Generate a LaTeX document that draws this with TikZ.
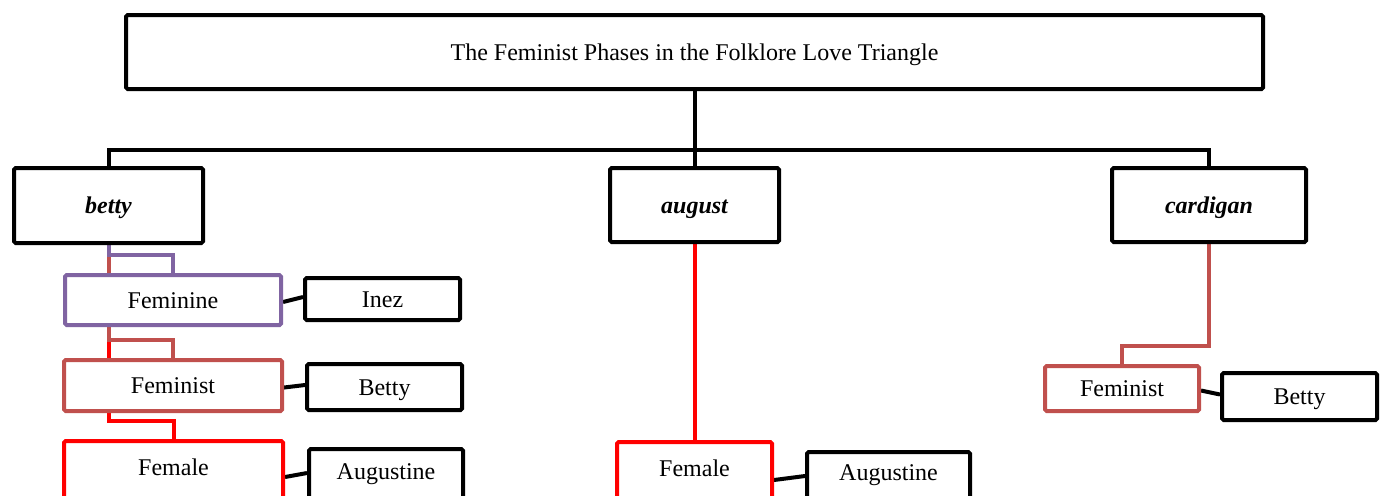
\documentclass[tikz,border=0pt]{standalone}
\usepackage{fontspec}
\setmainfont{Liberation Serif}
\usetikzlibrary{backgrounds}
\definecolor{cpurple}{HTML}{8064A2}
\definecolor{cbrick}{HTML}{C0504D}
\definecolor{cred}{HTML}{FF0000}
\tikzset{
  box/.style={draw=black, line width=2pt, fill=white, inner sep=0pt, rounded corners=0.8pt,
    text height=10.6pt, text depth=2.6pt, font=\fontsize{12}{13}\selectfont},
  bi/.style={font=\fontsize{12}{13}\selectfont\bfseries\itshape},
  conn/.style={line width=2pt},
}
\begin{document}
\begin{tikzpicture}[x=0.5pt,y=-0.5pt]
\clip (0,0) rectangle (1384,495);
% top
\node[box, minimum width=568.5pt, minimum height=37pt] (title) at (694.5,52) {The Feminist Phases in the Folklore Love Triangle};
\node[box, bi, minimum width=94.5pt, minimum height=37.5pt] (betty) at (108.5,205.5) {betty};
\node[box, bi, minimum width=84.5pt, minimum height=37pt] (august) at (694.5,205) {august};
\node[box, bi, minimum width=97pt, minimum height=37pt] (cardigan) at (1209,205) {cardigan};
% betty branch
\node[box, draw=cpurple, minimum width=108pt, minimum height=25pt] (feminineL) at (173,300) {Feminine};
\node[box, draw=cbrick, minimum width=109pt, minimum height=25.5pt] (feministL) at (173,385.5) {Feminist};
\node[box, draw=cred, minimum width=109.5pt, minimum height=30pt] (femaleL) at (173.5,471) {\raisebox{2pt}{Female}};
\node[box, minimum width=77.5pt, minimum height=21pt] (inez) at (382.5,299) {Inez};
\node[box, minimum width=77.5pt, minimum height=23pt] (bettyL) at (384.5,387) {Betty};
\node[box, minimum width=77pt, minimum height=26pt] (augustineL) at (386,475) {\raisebox{2pt}{Augustine}};
% august branch
\node[box, draw=cred, minimum width=77.5pt, minimum height=30pt] (femaleM) at (694.5,472) {\raisebox{2pt}{Female}};
\node[box, minimum width=81.5pt, minimum height=26pt] (augustineM) at (888.5,478) {\raisebox{3pt}{Augustine}};
% cardigan branch
\node[box, draw=cbrick, minimum width=77pt, minimum height=22.5pt] (feministR) at (1122,388.5) {Feminist};
\node[box, minimum width=77.5pt, minimum height=23.5pt] (bettyR) at (1299.5,396.5) {Betty};
\coordinate (bus) at (694.5,150);
\begin{scope}[on background layer]
  \fill[white] (0,0) rectangle (1384,495);
  \draw[conn] (title.south) -- (bus);
  \draw[conn] (betty.north) |- (cardigan.north |- bus) -- (cardigan.north);
  \draw[conn] (bus) -- (august.north);
  \draw[conn, cred] (betty.south) |- ([yshift=9pt]femaleL.north) -- (femaleL.north);
  \draw[conn, cbrick] (betty.south) |- ([yshift=9pt]feministL.north) -- (feministL.north);
  \draw[conn, cpurple] (betty.south) |- ([yshift=9pt]feminineL.north) -- (feminineL.north);
  \draw[conn, cred] (august.south) -- (femaleM.north);
  \draw[conn, cbrick] (cardigan.south) |- ([yshift=9pt]feministR.north) -- (feministR.north);
  \draw[conn] ([yshift=-1pt]feminineL.east) -- ([yshift=1pt]inez.west);
  \draw[conn] ([yshift=-1pt]feministL.east) -- ([yshift=1pt]bettyL.west);
  \draw[conn] ([yshift=-1pt]femaleL.east |- augustineL.west) -- ([yshift=1pt]augustineL.west);
  \draw[conn] ([yshift=-1pt]femaleM.east |- augustineM.west) -- ([yshift=1pt]augustineM.west);
  \draw[conn] ([yshift=-1pt]feministR.east) -- ([yshift=1pt]bettyR.west);
\end{scope}
\end{tikzpicture}
\end{document}
